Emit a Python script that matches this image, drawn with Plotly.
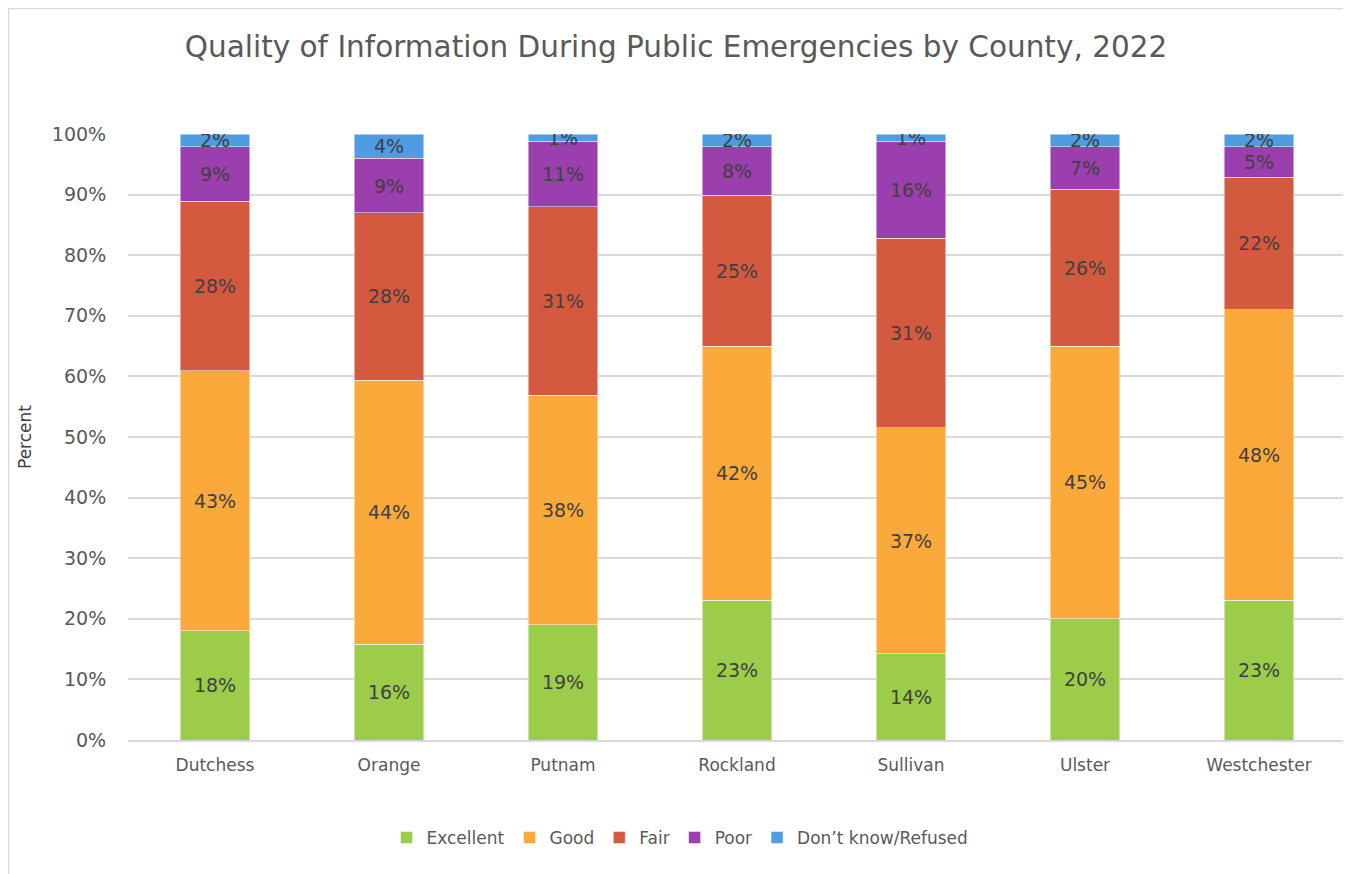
import plotly.graph_objects as go

counties = ["Dutchess", "Orange", "Putnam", "Rockland", "Sullivan", "Ulster", "Westchester"]

excellent = [18.0, 15.8, 19.0, 23.1, 14.2, 20.0, 23.1]
good = [42.9, 43.6, 37.9, 41.9, 37.3, 45.0, 47.9]
fair = [28.0, 27.6, 31.1, 24.9, 31.3, 25.9, 21.9]
poor = [9.0, 9.0, 10.8, 8.0, 16.0, 7.0, 5.0]
dont_know = [2.1, 4.0, 1.2, 2.1, 1.2, 2.1, 2.1]

series = [
    ("Excellent", excellent, "#9BCD4B"),
    ("Good", good, "#FBA93B"),
    ("Fair", fair, "#D35A3E"),
    ("Poor", poor, "#9B3EAE"),
    ("Don\u2019t know/Refused", dont_know, "#4F9CE2"),
]

font = "'DejaVu Sans', sans-serif"

# page is offset by the 8px body margin, so margins are shifted to compensate
L, R, T, B = 120, 13, 126, 142
W, H = 1351, 874
pw = W - L - R
ph = H - T - B

fig = go.Figure()
for name, vals, color in series:
    fig.add_trace(go.Bar(
        x=counties,
        y=[v / 100 for v in vals],
        name=name,
        marker=dict(color=color, line=dict(color="rgba(255,255,255,0.6)", width=0.8)),
        text=[f"{round(v)}%" for v in vals],
        texttemplate="%{text}",
        textposition="inside",
        insidetextanchor="middle",
        textangle=0,
        textfont=dict(size=19, color="#404040", family=font),
        constraintext="none",
        hoverinfo="skip",
    ))

fig.update_layout(
    barmode="stack",
    bargap=0.6,
    width=W,
    height=H,
    paper_bgcolor="white",
    plot_bgcolor="white",
    margin=dict(l=L, r=R, t=T, b=B, autoexpand=False),
    font=dict(family=font, color="#595959"),
    title=dict(
        text="Quality of Information During Public Emergencies by County, 2022",
        x=668 / W, xanchor="center", y=1 - 39 / H, yanchor="middle",
        font=dict(size=29.5, color="#595959", family=font),
    ),
    uniformtext=dict(mode=False),
    legend=dict(
        orientation="h",
        x=(672 - L) / pw, xanchor="center",
        y=-(830 - (T + ph)) / ph, yanchor="middle",
        font=dict(size=17, color="#595959", family=font),
        traceorder="normal",
        itemwidth=30,
    ),
    annotations=[dict(
        text="Percent", textangle=-90,
        xref="paper", yref="paper",
        x=(17 - L) / pw, y=0.5, xanchor="center", yanchor="middle",
        showarrow=False,
        font=dict(size=17, color="#404040", family=font),
    )],
    shapes=[dict(type="rect", xref="paper", yref="paper",
                 x0=-(L - 0.5) / pw, x1=(1340 - L) / pw,
                 y0=-(885 - T - ph) / ph, y1=1 + (T - 0.5) / ph,
                 line=dict(color="#D9D9D9", width=1.5))],
)

fig.update_yaxes(
    range=[0, 1],
    tickvals=[i / 10 for i in range(11)],
    tickformat=".0%",
    gridcolor="#D9D9D9",
    gridwidth=1.5,
    zeroline=False,
    showline=False,
    tickfont=dict(size=19, color="#595959", family=font),
    ticks="outside",
    ticklen=17,
    tickcolor="rgba(0,0,0,0)",
)
fig.update_xaxes(
    showline=True,
    linecolor="#D9D9D9",
    linewidth=1.5,
    tickfont=dict(size=17, color="#595959", family=font),
    ticks="outside",
    ticklen=9,
    tickcolor="rgba(0,0,0,0)",
)

fig.write_html("out.html")
